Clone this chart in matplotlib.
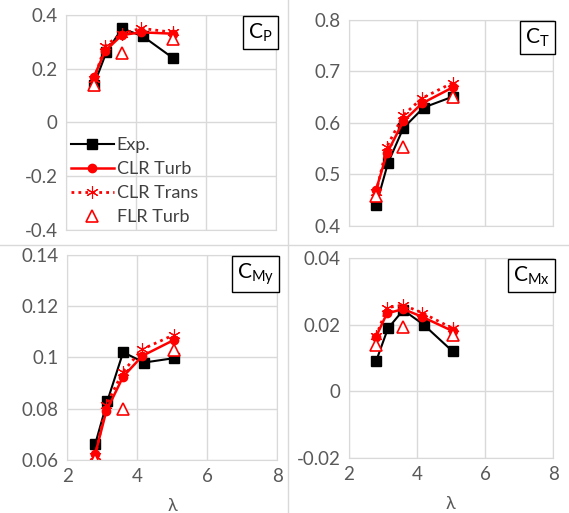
import matplotlib
matplotlib.use("Agg")
import matplotlib.pyplot as plt
from matplotlib.lines import Line2D

plt.rcParams['font.family'] = ['Lato', 'DejaVu Sans']

# tip speed ratio
lam_exp = [2.8, 3.15, 3.6, 4.2, 5.05]
lam_clr = [2.8, 3.12, 3.6, 4.15, 5.05]
lam_flr = [2.8, 3.6, 5.05]

# power coefficient
cp_exp = [0.14, 0.26, 0.35, 0.32, 0.24]
cp_turb = [0.17, 0.266, 0.325, 0.335, 0.33]
cp_trans = [0.16, 0.285, 0.33, 0.35, 0.335]
cp_flr = [0.14, 0.257, 0.31]

# thrust coefficient
ct_exp = [0.44, 0.522, 0.59, 0.63, 0.651]
ct_turb = [0.47, 0.541, 0.603, 0.638, 0.669]
ct_trans = [0.465, 0.554, 0.615, 0.648, 0.678]
ct_flr = [0.458, 0.554, 0.65]

# moment coefficient y
cmy_exp = [0.0661, 0.083, 0.102, 0.098, 0.0997]
cmy_turb = [0.0622, 0.0791, 0.0925, 0.1006, 0.1068]
cmy_trans = [0.0615, 0.0815, 0.0945, 0.1032, 0.1088]
cmy_flr = [0.060, 0.080, 0.103]

# moment coefficient x
cmx_exp = [0.009, 0.0189, 0.0244, 0.020, 0.012]
cmx_turb = [0.0164, 0.0234, 0.0247, 0.0224, 0.0181]
cmx_trans = [0.0165, 0.0251, 0.0259, 0.0236, 0.0189]
cmx_flr = [0.014, 0.0194, 0.017]

panels = [
    ("C$_\\mathregular{P}$", cp_exp, cp_turb, cp_trans, cp_flr, (-0.4, 0.4), [-0.4, -0.2, 0, 0.2, 0.4], ["-0.4", "-0.2", "0", "0.2", "0.4"]),
    ("C$_\\mathregular{T}$", ct_exp, ct_turb, ct_trans, ct_flr, (0.4, 0.8), [0.4, 0.5, 0.6, 0.7, 0.8], ["0.4", "0.5", "0.6", "0.7", "0.8"]),
    ("C$_\\mathregular{My}$", cmy_exp, cmy_turb, cmy_trans, cmy_flr, (0.06, 0.14), [0.06, 0.08, 0.1, 0.12, 0.14], ["0.06", "0.08", "0.1", "0.12", "0.14"]),
    ("C$_\\mathregular{Mx}$", cmx_exp, cmx_turb, cmx_trans, cmx_flr, (-0.02, 0.04), [-0.02, 0, 0.02, 0.04], ["-0.02", "0", "0.02", "0.04"]),
]

rects = [
    [0.116, 0.552, 0.369, 0.419],
    [0.613, 0.5595, 0.359, 0.4016],
    [0.118, 0.1033, 0.369, 0.400],
    [0.613, 0.107, 0.359, 0.390],
]

fig = plt.figure(figsize=(5.69, 5.13), dpi=100)
grid_c = "#d9d9d9"
tick_c = "#595959"

# panel separators
fig.add_artist(Line2D([0.507, 0.507], [0, 1], color=grid_c, lw=1))
fig.add_artist(Line2D([0, 1], [0.522, 0.522], color=grid_c, lw=1))

for i, (lab, e, t, tr, f, ylim, yt, ytl) in enumerate(panels):
    ax = fig.add_axes(rects[i])
    ax.plot(lam_exp, e, color="black", marker="s", ms=7, lw=1.5, label="Exp.")
    ax.plot(lam_clr, t, color="red", marker="o", ms=6, lw=1.8, label="CLR Turb")
    ax.plot(lam_clr, tr, color="red", marker=(6, 2, 0), ms=9, mew=0.8, lw=2,
            ls=(0, (1, 1.5)), label="CLR Trans")
    ax.plot(lam_flr, f, ls="none", marker="^", ms=9, mfc="white", mec="red",
            mew=1.2, label="FLR Turb")
    ax.set_xlim(2, 8)
    ax.set_ylim(*ylim)
    ax.set_xticks([2, 4, 6, 8])
    ax.set_yticks(yt)
    ax.set_yticklabels(ytl)
    ax.grid(True, color=grid_c, lw=1)
    ax.set_axisbelow(True)
    for s in ax.spines.values():
        s.set_color(grid_c)
    ax.tick_params(length=0, labelsize=13.5, colors=tick_c, pad=6)
    if i < 2:
        ax.set_xticklabels([])
    else:
        ax.set_xlabel("λ", fontsize=13, color=tick_c, labelpad=9)
    ax.text(0.985, 0.97, lab, transform=ax.transAxes, ha="right", va="top",
            fontsize=15, bbox=dict(boxstyle="square,pad=0.25", fc="white", ec="black", lw=1))
    if i == 0:
        ax.legend(loc="lower left", bbox_to_anchor=(-0.03, -0.03), frameon=False,
                  fontsize=13, labelcolor="#404040", handlelength=2.4,
                  handletextpad=0.15, borderaxespad=0.2, labelspacing=0.45)

fig.savefig("out.png", dpi=100)
